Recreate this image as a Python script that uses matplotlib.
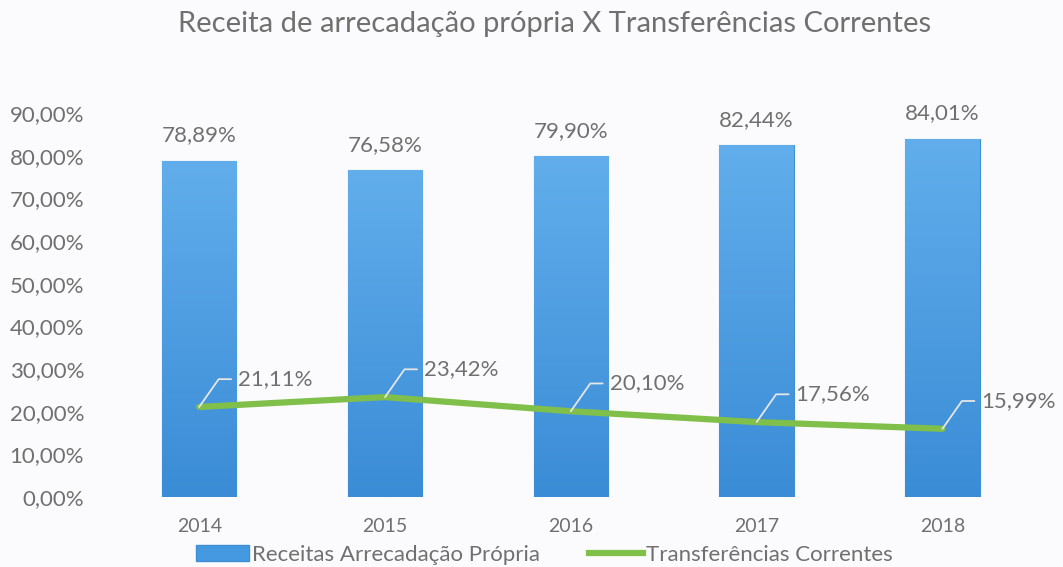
import matplotlib
matplotlib.use("Agg")
import matplotlib.pyplot as plt
import numpy as np
from matplotlib.patches import Rectangle
from matplotlib.lines import Line2D
from matplotlib.colors import LinearSegmentedColormap

years = ["2014", "2015", "2016", "2017", "2018"]
receitas = [78.89, 76.58, 79.90, 82.44, 84.01]
transf = [21.11, 23.42, 20.10, 17.56, 15.99]
yticks = [0, 10, 20, 30, 40, 50, 60, 70, 80, 90]

def fmt(v):
    return f"{v:.2f}".replace(".", ",") + "%"

plt.rcParams['font.family'] = ['Lato', 'DejaVu Sans']
gray = "#707070"

fig = plt.figure(figsize=(10.63, 5.67), dpi=100)
fig.patch.set_facecolor("#fbfbfd")
ax = fig.add_axes([0.1, 0.1235, 0.874, 0.677])
ax.set_facecolor("none")

x = np.arange(len(years))
bars = ax.bar(x, receitas, width=0.4, color="#4599e0", edgecolor="#3f8fd6", linewidth=0.8, zorder=2)

grad = np.linspace(0, 1, 256).reshape(-1, 1)
cmap = LinearSegmentedColormap.from_list("b", ["#3a8cd6", "#62aeec"])
for b in bars:
    im = ax.imshow(grad, cmap=cmap, origin="lower", aspect="auto",
                   extent=[b.get_x(), b.get_x() + b.get_width(), 0, b.get_height()], zorder=2.5)
    im.set_clip_path(b)

for xi, v in zip(x, receitas):
    ax.annotate(fmt(v), (xi, v), xytext=(0, 11), textcoords="offset points",
                ha="center", va="bottom", fontsize=16, color=gray)

ax.plot(x, transf, color="#80c04a", linewidth=4.5, zorder=3, solid_capstyle="round")

for xi, v in zip(x, transf):
    ax.annotate(fmt(v), (xi, v), xytext=(28, 20), textcoords="offset points",
                ha="left", va="center", fontsize=16, color=gray, zorder=4,
                arrowprops=dict(arrowstyle="-", color="#e6e6e6", lw=1.3,
                                shrinkA=3, shrinkB=0,
                                connectionstyle="angle,angleA=0,angleB=55,rad=0"))

ax.set_ylim(0, 90)
ax.set_xlim(-0.5, len(years) - 0.5)
ax.set_yticks(yticks)
ax.set_yticklabels([fmt(t) for t in yticks])
ax.set_xticks(x)
ax.set_xticklabels(years)
ax.tick_params(axis="x", length=0, labelsize=14, colors=gray, pad=15)
ax.tick_params(axis="y", length=0, labelsize=16, colors=gray, pad=16)
for s in ax.spines.values():
    s.set_visible(False)

fig.text(0.522, 0.957, "Receita de arrecadação própria X Transferências Correntes",
         ha="center", va="center", fontsize=21, color=gray)

handles = [Rectangle((0, 0), 1, 1, facecolor="#4599e0", edgecolor="#3f8fd6"),
           Line2D([0], [0], color="#80c04a", lw=4.5)]
fig.legend(handles, ["Receitas Arrecadação Própria", "Transferências Correntes"],
           loc="center", bbox_to_anchor=(0.512, 0.022), ncol=2, frameon=False,
           fontsize=16, labelcolor=gray, handlelength=2.4, handletextpad=0.15,
           columnspacing=2.2)

fig.savefig("out.png", dpi=100, facecolor=fig.get_facecolor())
